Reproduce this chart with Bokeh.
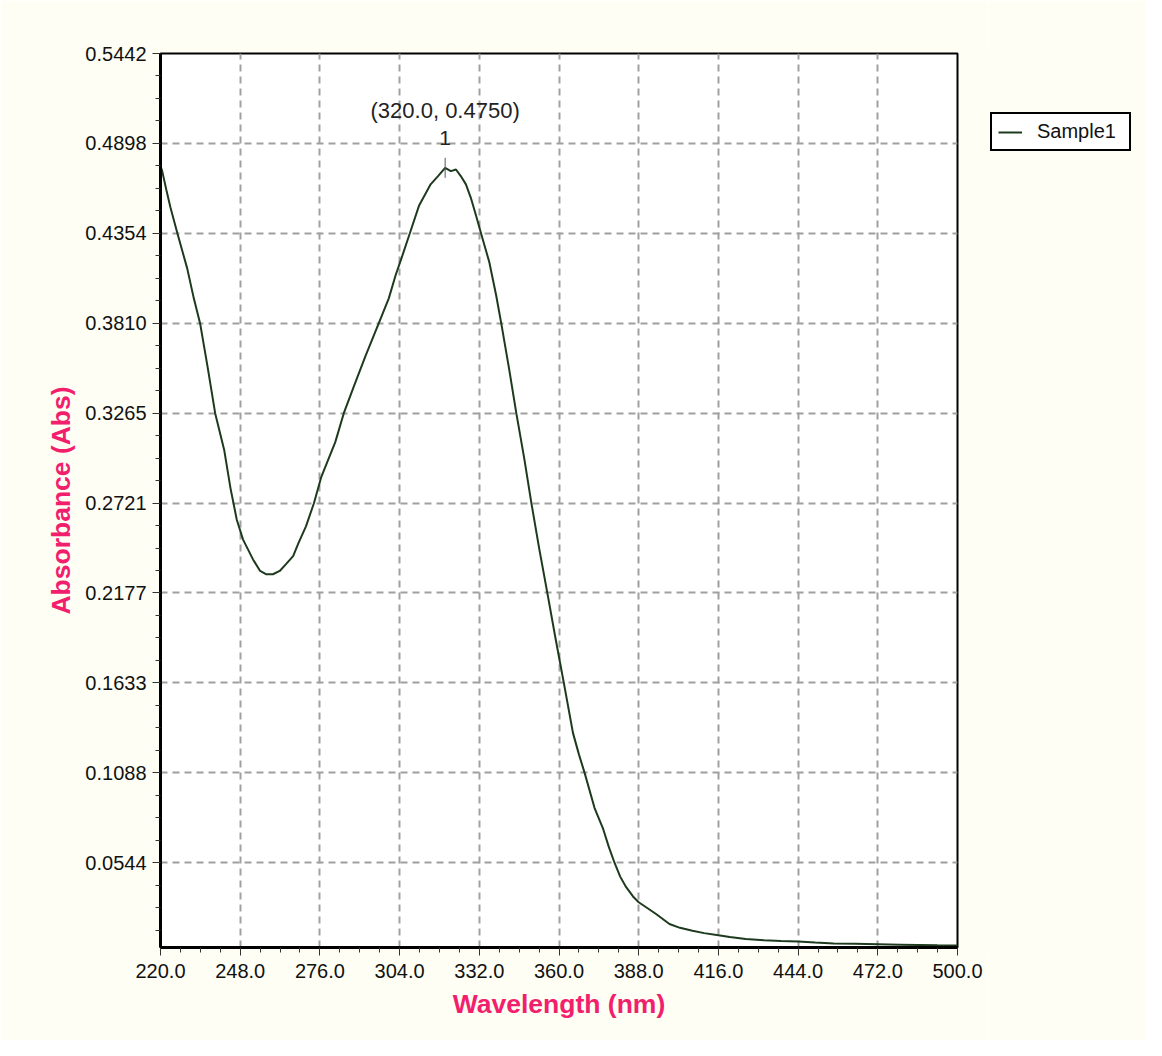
import numpy as np
from bokeh.plotting import figure
from bokeh.layouts import row
from bokeh.models import (Range1d, FixedTicker, NumeralTickFormatter, Legend,
                          LegendItem, ColumnDataSource)
from bokeh.core.properties import value
from bokeh.embed import file_html
from bokeh.resources import INLINE

# ---- data ----
wavelength = [220.0, 220.6, 222.0, 223.5, 226.0, 229.4, 231.7, 233.9, 236.5, 239.2,
              242.4, 244.6, 246.8, 249.0, 252.5, 255.0, 257.2, 259.5, 261.9, 264.0,
              266.6, 268.5, 271.1, 273.9, 276.5, 281.4, 284.4, 288.0, 292.0, 296.7,
              300.2, 302.6, 305.0, 307.6, 310.8, 313.0, 314.9, 317.5, 320.0, 322.0,
              323.8, 325.5, 327.3, 329.0, 330.8, 332.6, 335.5, 337.9, 339.7, 342.5,
              345.0, 347.8, 350.3, 353.0, 355.9, 358.8, 361.7, 364.9, 367.0, 369.0,
              372.5, 375.4, 377.5, 379.5, 381.5, 383.6, 386.0, 388.0, 391.0, 394.1,
              398.8, 402.5, 406.9, 411.0, 416.0, 420.0, 425.6, 432.0, 438.0, 444.0,
              450.0, 456.5, 464.0, 472.0, 480.0, 486.2, 493.0, 500.0]
absorbance = [0.476, 0.473, 0.462, 0.451, 0.435, 0.414, 0.396, 0.381, 0.355, 0.3265,
              0.304, 0.281, 0.262, 0.250, 0.238, 0.231, 0.229, 0.229, 0.231, 0.235,
              0.240, 0.248, 0.258, 0.272, 0.288, 0.309, 0.3265, 0.343, 0.361, 0.381,
              0.396, 0.410, 0.422, 0.4354, 0.452, 0.459, 0.465, 0.470, 0.475, 0.473,
              0.474, 0.470, 0.465, 0.457, 0.4465, 0.4354, 0.418, 0.398, 0.381, 0.353,
              0.3265, 0.299, 0.2721, 0.245, 0.2177, 0.190, 0.1633, 0.133, 0.120, 0.1088,
              0.0875, 0.0754, 0.064, 0.0544, 0.046, 0.0396, 0.034, 0.0305, 0.027, 0.0234,
              0.0173, 0.0150, 0.0132, 0.0118, 0.0105, 0.0095, 0.0082, 0.0075, 0.0070, 0.0067,
              0.0061, 0.0055, 0.0053, 0.0051, 0.0048, 0.0046, 0.0044, 0.0043]

peak_wl = [320.0]
peak_abs = [0.4750]
peak_num = ["1"]

x_ticks = [220.0, 248.0, 276.0, 304.0, 332.0, 360.0, 388.0, 416.0, 444.0, 472.0, 500.0]
y_ticks = [0.0544, 0.1088, 0.1633, 0.2177, 0.2721, 0.3265, 0.3810, 0.4354, 0.4898, 0.5442]

series_name = "Sample1"
x_title = "Wavelength (nm)"
y_title = "Absorbance (Abs)"

# ---- styling ----
FONT = "Liberation Sans"
CREAM = "#FEFEF4"
LINE = "#1E3A1E"
TITLE_COLOR = "#F2206C"

p = figure(width=987, height=1040, output_backend="svg", toolbar_location=None,
           x_range=Range1d(220, 500), y_range=Range1d(0.0031, 0.5442),
           min_border_left=160, min_border_right=30, min_border_top=53,
           min_border_bottom=93)
p.border_fill_color = CREAM
p.background_fill_color = "white"
p.outline_line_color = "black"
p.outline_line_width = 2

src = ColumnDataSource(dict(x=wavelength, y=absorbance))
r = p.line("x", "y", source=src, line_color=LINE, line_width=2)

# peak marker + annotation
pk = ColumnDataSource(dict(x=peak_wl, y=peak_abs, num=peak_num,
                           lab=[f"({a:.1f}, {b:.4f})" for a, b in zip(peak_wl, peak_abs)]))
p.scatter("x", "y", source=pk, marker="dash", angle=np.pi / 2, size=20,
          line_color="#555555", line_width=1)
p.text("x", "y", text="num", source=pk, y_offset=-30, text_align="center",
       text_baseline="middle", text_font=value(FONT), text_font_size="21px",
       text_color="#222222")
p.text("x", "y", text="lab", source=pk, y_offset=-57, text_align="center",
       text_baseline="middle", text_font=value(FONT), text_font_size="22px",
       text_color="#222222")

# grid
for g in (p.xgrid, p.ygrid):
    g.grid_line_color = "#A0A0A0"
    g.grid_line_dash = "7 5"
    g.grid_line_width = 2

# ticks
x_minor = []
for a, b in zip(x_ticks[:-1], x_ticks[1:]):
    x_minor += [a + (b - a) * k / 4 for k in (1, 2, 3)]
y_step = y_ticks[1] - y_ticks[0]
y_all = [y_ticks[0] - y_step] + y_ticks
y_minor = []
for a, b in zip(y_all[:-1], y_all[1:]):
    y_minor += [a + (b - a) * k / 4 for k in (1, 2, 3)]

p.xaxis.ticker = FixedTicker(ticks=x_ticks, minor_ticks=x_minor)
p.yaxis.ticker = FixedTicker(ticks=y_ticks, minor_ticks=y_minor)
p.xaxis.formatter = NumeralTickFormatter(format="0.0")
p.yaxis.formatter = NumeralTickFormatter(format="0.0000")

for ax in (p.xaxis, p.yaxis):
    ax.axis_line_color = "black"
    ax.axis_line_width = 3
    ax.major_tick_in = 0
    ax.major_tick_out = 8
    ax.minor_tick_in = 0
    ax.minor_tick_out = 5
    ax.major_tick_line_color = "#333333"
    ax.minor_tick_line_color = "#333333"
    ax.major_tick_line_width = 1
    ax.minor_tick_line_width = 1
    ax.major_label_text_font = FONT
    ax.major_label_text_font_size = "20px"
    ax.major_label_text_color = "#111111"
    ax.axis_label_text_font = FONT
    ax.axis_label_text_font_size = "26.5px"
    ax.axis_label_text_font_style = "bold"
    ax.axis_label_text_color = TITLE_COLOR

p.xaxis.axis_label = x_title
p.yaxis.axis_label = y_title
p.xaxis.major_label_standoff = 8
p.yaxis.major_label_standoff = 6
p.xaxis.axis_label_standoff = 8
p.yaxis.axis_label_standoff = 6

# ---- legend panel (separate strip to the right of the plot) ----
# the same series is referenced here; its values lie outside this strip's
# 0..1 ranges, so only the legend entry is visible.
lg = figure(width=159, height=1040, output_backend="svg", toolbar_location=None,
            x_range=Range1d(0, 1), y_range=Range1d(0, 1), min_border=0)
lg.axis.visible = False
lg.grid.visible = False
lg.outline_line_color = None
lg.background_fill_color = CREAM
lg.border_fill_color = CREAM
r_lg = lg.line("x", "y", source=src, line_color=LINE, line_width=2)

legend = Legend(items=[LegendItem(label=series_name, renderers=[r_lg])],
                location=(3, 796))
legend.border_line_color = "black"
legend.border_line_width = 2
legend.border_line_alpha = 1.0
legend.background_fill_color = "white"
legend.background_fill_alpha = 1.0
legend.padding = 6
legend.margin = 0
legend.spacing = 0
legend.glyph_width = 24
legend.glyph_height = 18
legend.label_height = 18
legend.label_width = 86
legend.label_standoff = 15
legend.label_text_font = FONT
legend.label_text_font_size = "20px"
legend.label_text_color = "#111111"
lg.add_layout(legend)

layout = row(p, lg, spacing=0)
open("out.html", "w").write(file_html(layout, INLINE))
